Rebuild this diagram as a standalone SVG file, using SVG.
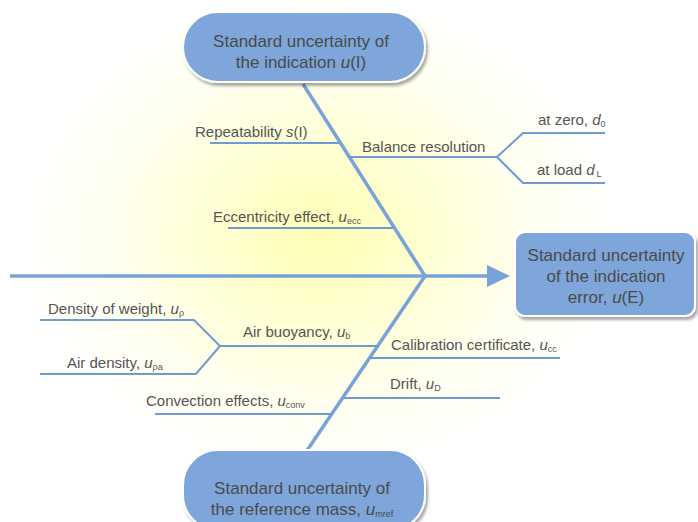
<svg xmlns="http://www.w3.org/2000/svg" width="698" height="522" viewBox="0 0 698 522">
<defs>
<radialGradient id="glow" cx="320" cy="235" r="300" gradientUnits="userSpaceOnUse" gradientTransform="translate(320 235) scale(1 0.8) translate(-320 -235)">
<stop offset="0" stop-color="#ffffb4"/>
<stop offset="0.35" stop-color="#ffffd2"/>
<stop offset="0.7" stop-color="#fffff0"/>
<stop offset="1" stop-color="#ffffff"/>
</radialGradient>
<filter id="sh" x="-10%" y="-10%" width="125%" height="130%">
<feGaussianBlur in="SourceAlpha" stdDeviation="1.5"/>
<feOffset dx="2" dy="3" result="b"/>
<feComponentTransfer><feFuncA type="linear" slope="0.35"/></feComponentTransfer>
<feMerge><feMergeNode/><feMergeNode in="SourceGraphic"/></feMerge>
</filter>
</defs>
<style>
.node{fill:#7ea6da;stroke:#ffffff;stroke-width:2;filter:url(#sh)}
.t{font-family:"Liberation Sans",Arial,sans-serif;fill:#4a4a4a;text-anchor:middle}
.big{font-size:17px}
.lab{font-family:"Liberation Sans",Arial,sans-serif;font-size:15px;fill:#555555}
.sub{font-size:9px}
.ln{stroke:#6f9bd2;stroke-width:2;fill:none}
.bone{stroke:#78a3d8;stroke-width:3.5;fill:none}
</style>
<rect width="698" height="522" fill="#ffffff"/>
<rect width="698" height="522" fill="url(#glow)"/>
<g id="connectors">
<line class="bone" x1="10" y1="276" x2="490" y2="276" stroke-width="5"/>
<polygon points="487,265 510,276 487,287" fill="#78a3d8"/>
<line class="bone" x1="303" y1="84" x2="425" y2="276"/>
<line class="bone" x1="425" y1="276" x2="306" y2="452"/>
<polyline class="ln" points="210,143 340,143"/>
<polyline class="ln" points="349,157 497,157"/>
<polyline class="ln" points="605,133 523,133 497,157 523,183 605,183"/>
<polyline class="ln" points="228,228 394,228"/>
<polyline class="ln" points="40,320 194,320 220,346 196,374 40,374"/>
<polyline class="ln" points="220,346 378,346"/>
<polyline class="ln" points="370,358 560,358"/>
<polyline class="ln" points="343,398 500,398"/>
<polyline class="ln" points="155,414 332,414"/>
</g>
<g id="top">
<rect class="node" x="183" y="12" width="242" height="70" rx="35"/>
<text class="t big" x="301" y="47">Standard uncertainty of</text>
<text class="t big" x="301" y="68">the indication <tspan font-style="italic">u</tspan>(I)</text>
</g>
<g id="effect">
<rect class="node" x="515" y="232" width="180" height="84" rx="10"/>
<text class="t big" x="606" y="261">Standard uncertainty</text>
<text class="t big" x="606" y="282">of the indication</text>
<text class="t big" x="606" y="303">error, <tspan font-style="italic">u</tspan>(E)</text>
</g>
<g id="bottom">
<rect class="node" x="183" y="450" width="242" height="80" rx="35"/>
<text class="t big" x="302" y="494">Standard uncertainty of</text>
<text class="t big" x="302" y="515">the reference mass, <tspan font-style="italic">u</tspan><tspan class="sub" font-size="11" dy="2">mref</tspan></text>
</g>
<g id="repeatability"><text class="lab" x="195" y="137">Repeatability <tspan font-style="italic">s</tspan>(I)</text></g>
<g id="resolution"><text class="lab" x="362" y="152">Balance resolution</text></g>
<g id="zero"><text class="lab" x="538" y="125">at zero, <tspan font-style="italic">d</tspan><tspan class="sub" dy="2">0</tspan></text></g>
<g id="load"><text class="lab" x="537" y="175">at load <tspan font-style="italic">d</tspan><tspan class="sub" dx="2" dy="2">L</tspan></text></g>
<g id="eccentricity"><text class="lab" x="213" y="222">Eccentricity effect, <tspan font-style="italic">u</tspan><tspan class="sub" dy="2">ecc</tspan></text></g>
<g id="densityweight"><text class="lab" x="48" y="314">Density of weight, <tspan font-style="italic">u</tspan><tspan class="sub" dy="2">ρ</tspan></text></g>
<g id="buoyancy"><text class="lab" x="243" y="337">Air buoyancy, <tspan font-style="italic">u</tspan><tspan class="sub" dy="2">b</tspan></text></g>
<g id="airdensity"><text class="lab" x="67" y="368">Air density, <tspan font-style="italic">u</tspan><tspan class="sub" dy="2">ρa</tspan></text></g>
<g id="calibration"><text class="lab" x="391" y="350">Calibration certificate, <tspan font-style="italic">u</tspan><tspan class="sub" dy="2">cc</tspan></text></g>
<g id="drift"><text class="lab" x="390" y="389">Drift, <tspan font-style="italic">u</tspan><tspan class="sub" dy="2">D</tspan></text></g>
<g id="convection"><text class="lab" x="146" y="406">Convection effects, <tspan font-style="italic">u</tspan><tspan class="sub" dy="2">conv</tspan></text></g>
</svg>
